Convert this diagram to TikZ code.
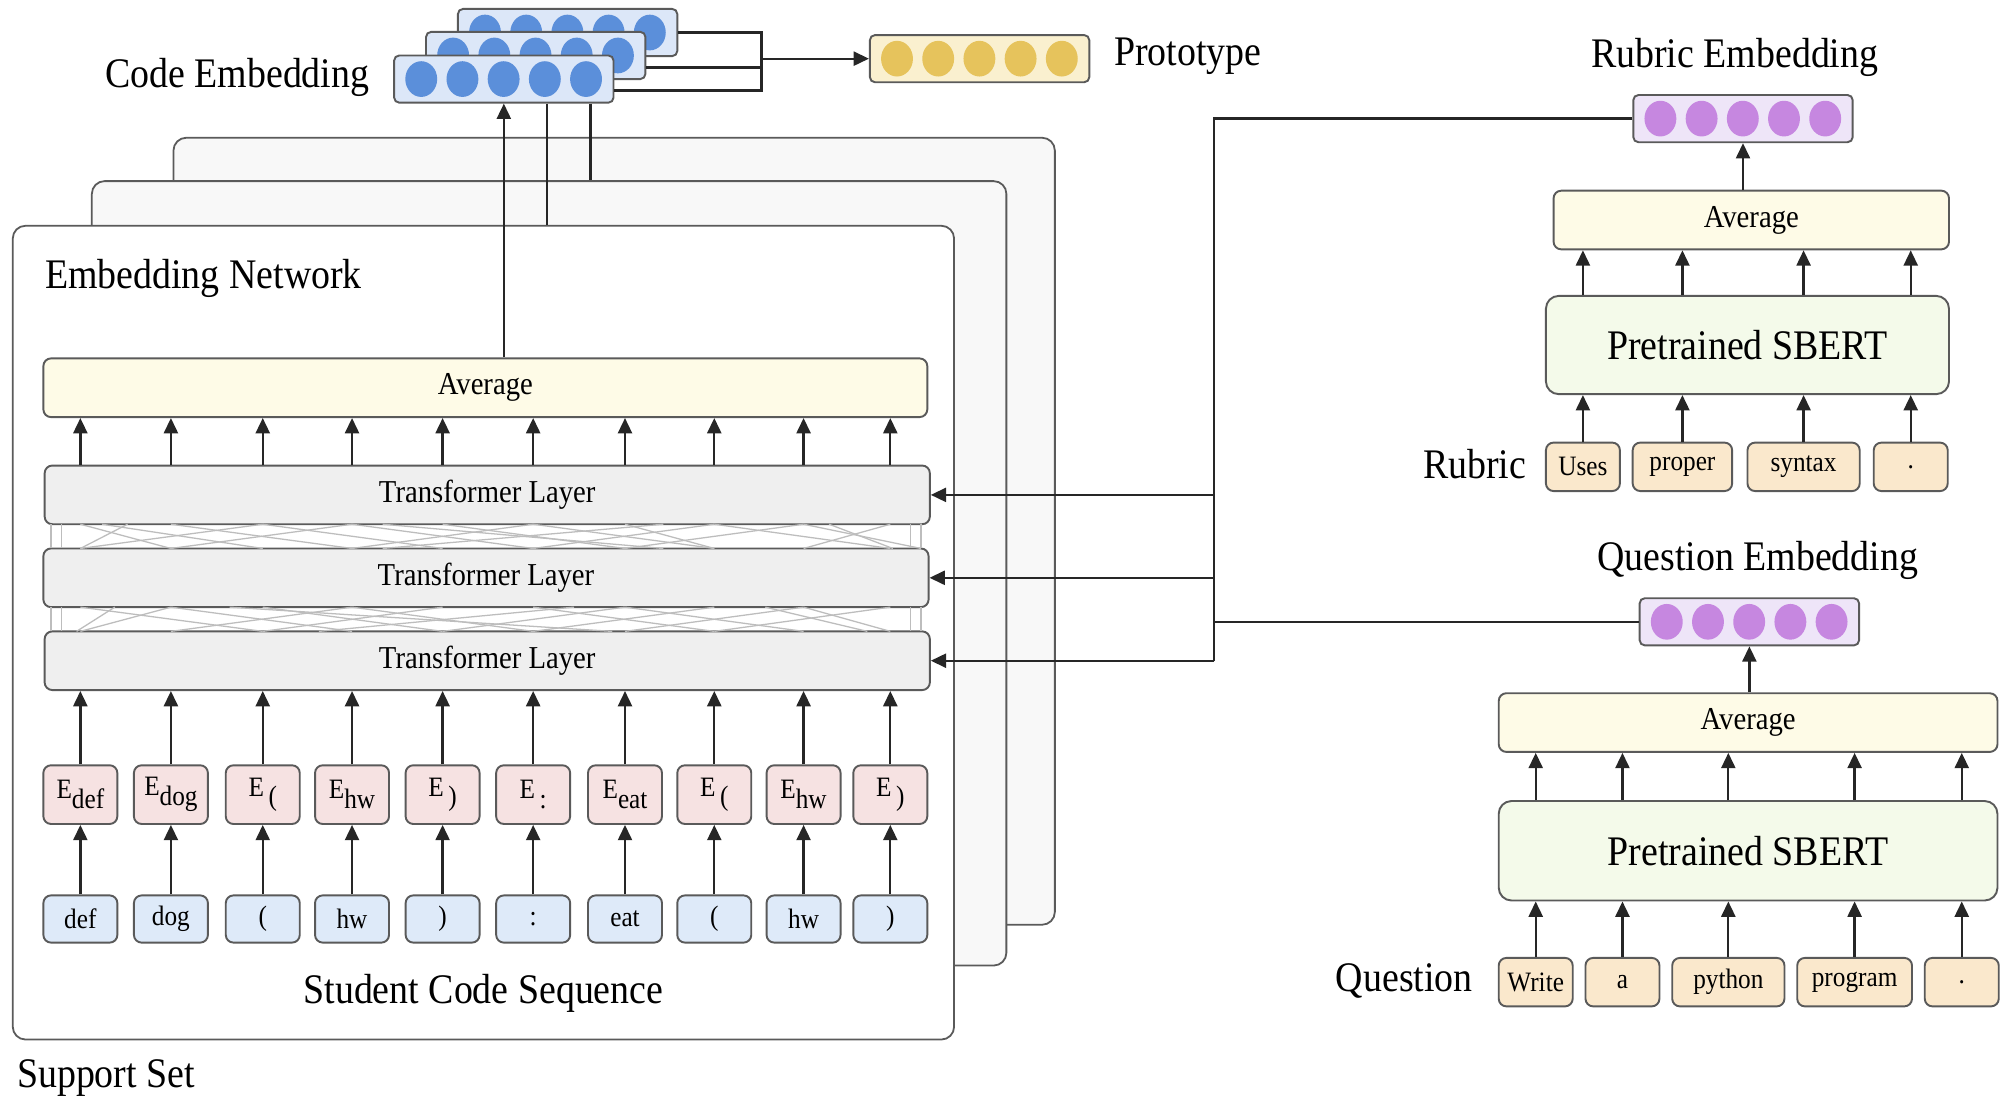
\documentclass[tikz,border=0pt]{standalone}
\usepackage{fontspec}
\setmainfont{Liberation Serif}[FakeStretch=0.9]
\usetikzlibrary{arrows.meta,shapes.geometric,calc,positioning}
\definecolor{edge}{HTML}{5A5A5A}
\definecolor{cardFill}{HTML}{F8F8F8}
\definecolor{avgFill}{HTML}{FEFBE7}
\definecolor{layerFill}{HTML}{EFEFEF}
\definecolor{embFill}{HTML}{F6E2E2}
\definecolor{tokFill}{HTML}{DEEAF9}
\definecolor{wordFill}{HTML}{FAE8CC}
\definecolor{bertFill}{HTML}{F4FAEA}
\definecolor{codeBg}{HTML}{DCE7F8}
\definecolor{codeDot}{HTML}{5B8FDA}
\definecolor{protoBg}{HTML}{FAF0CF}
\definecolor{protoDot}{HTML}{E6C35C}
\definecolor{textBg}{HTML}{EEE5F8}
\definecolor{textDot}{HTML}{C687E0}
\definecolor{attn}{HTML}{BDBDBD}
\tikzset{
  % ---- labels ----------------------------------------------------
  labbig/.style   = {inner sep=0pt, font=\fontsize{16.5}{18}\selectfont},
  labmid/.style   = {font=\fontsize{12.5}{14}\selectfont},
  labsml/.style   = {font=\fontsize{11}{12}\selectfont},
  % ---- support-set cards -----------------------------------------
  card/.style     = {draw=edge, line width=.7pt, rounded corners=5pt,
                     fill=cardFill, inner sep=0pt},
  % ---- boxes -----------------------------------------------------
  box/.style      = {draw=edge, line width=.75pt, rounded corners=3pt,
                     inner sep=0pt},
  avgbox/.style   = {box, labmid, fill=avgFill, minimum height=23pt},
  layer/.style    = {box, labmid, fill=layerFill, minimum width=347pt,
                     minimum height=23pt},
  ebox/.style     = {box, labsml, fill=embFill, minimum width=29pt,
                     minimum height=23pt},
  tokbox/.style   = {box, labsml, fill=tokFill, minimum width=29pt,
                     minimum height=18.5pt},
  wordbox/.style  = {box, labsml, fill=wordFill, minimum height=19pt},
  bertbox/.style  = {box, rounded corners=5pt, fill=bertFill,
                     font=\fontsize{16.5}{18}\selectfont},
  % ---- embedding vectors -----------------------------------------
  vecbox/.style   = {box, rounded corners=2pt, minimum width=86pt,
                     minimum height=18.5pt},
  dot/.style      = {ellipse, inner sep=0pt, minimum width=12.5pt,
                     minimum height=14pt},
  % ---- connectors ------------------------------------------------
  wire/.style     = {draw=black!85, line width=.9pt},
  arr/.style      = {wire, -{Triangle[length=6pt,width=5.5pt]}},
  attnline/.style = {draw=attn, line width=.5pt},
}

\begin{document}
\begin{tikzpicture}[x=0.5pt,y=-0.5pt]
  \useasboundingbox (0,0) rectangle (1568,860);
  % support set cards, back to front
  \node[card, minimum width=345.5pt, minimum height=308.5pt] (card3) at (481.5,416.5) {};
  \node[card, minimum width=358.5pt, minimum height=307.5pt] (card2) at (430.5,449.5) {};
  \node[card, fill=white, minimum width=369pt, minimum height=319pt] (card1) at (379,496) {};
  \node[labbig, anchor=west] (netlab) at (35,218) {Embedding Network};
  \node[labbig] (seqlab) at (379,779) {Student Code Sequence};
  \node[labbig, anchor=west] (suplab) at (13,845) {Support Set};

  % code embeddings and prototype
  \node[labbig] (celab) at (186,61) {Code Embedding};
  \foreach \j/\x/\y in {3/445/25.5, 2/420/43.5, 1/395/62} {
    \node[vecbox, fill=codeBg] (ce\j) at (\x,\y) {};
    \foreach \k in {0,...,4}
      \node[dot, fill=codeDot] at ($(ce\j.west)+(22+32.3*\k,0)$) {};
  }
  \node[vecbox, fill=protoBg] (proto) at (768,46) {};
  \foreach \k in {0,...,4}
    \node[dot, fill=protoDot] at ($(proto.west)+(22+32.3*\k,0)$) {};
  \node[labbig, anchor=west] (protolab) at (873,44) {Prototype};
  \coordinate (pj) at (597,46);
  \draw[wire] (ce3.east) -| (pj);
  \draw[wire] ([yshift=-4.75pt]ce2.east) -| (pj);
  \draw[wire] ([yshift=-4.5pt]ce1.east) -| (pj);
  \draw[arr] (pj) -- (proto);

  % embedding network
  \node[avgbox, minimum width=346.5pt] (avg) at (380.5,304) {Average};
  \node[layer] (tl1) at (382,388) {Transformer Layer};
  \node[layer] (tl2) at (381,453) {Transformer Layer};
  \node[layer] (tl3) at (382,518) {Transformer Layer};
  \foreach \a/\b in {40/40, 48/48, 63/134, 100/63, 134/276, 206/347, 276/134,
                     347/490, 418/276, 490/560, 560/698, 630/490, 698/630,
                     722/722, 714/714, 206/63, 418/560, 560/418, 630/722,
                     276/418, 80/206, 300/520, 520/300, 650/700} {
    \draw[attnline] (\a,411) -- (\b,430);
  }
  \foreach \a/\b in {40/40, 48/48, 63/206, 134/63, 206/347, 276/134, 347/206,
                     418/560, 490/347, 560/418, 630/698, 698/560, 722/722,
                     714/714, 134/276, 490/630, 630/490, 276/418, 90/60,
                     180/480, 450/250, 600/680} {
    \draw[attnline] (\a,476) -- (\b,495);
  }
  \foreach \x/\elab/\tlab [count=\i] in {63/def/def, 134/dog/dog, 206/{\,(}/{(},
      276/hw/hw, 347/{\,)}/{)}, 418/{\,:}/{:}, 490/eat/eat, 560/{\,(}/{(},
      630/hw/hw, 698/{\,)}/{)}} {
    \node[ebox] (e\i) at (\x,623) {E\raisebox{-.75ex}{\elab}};
    \node[tokbox] (t\i) at (\x,720.5) {\tlab};
    \draw[arr] (t\i) -- (e\i);
    \draw[arr] (e\i) -- (e\i |- tl3.south);
    \draw[arr] (tl1.north -| e\i) -- (avg.south -| e\i);
  }
  \draw[arr] (avg.north -| ce1) -- (ce1);
  \coordinate (lk1) at (429,0);
  \coordinate (lk2) at (463,0);
  \draw[wire] (ce1.south -| lk1) -- (card1.north -| lk1);
  \draw[wire] (ce1.south -| lk2) -- (card2.north -| lk2);

  % rubric branch
  \node[labbig] (rlab) at (1360,45) {Rubric Embedding};
  \node[vecbox, fill=textBg] (rEmb) at (1366.5,93) {};
  \foreach \k in {0,...,4}
    \node[dot, fill=textDot] at ($(rEmb.west)+(22+32.3*\k,0)$) {};
  \node[avgbox, minimum width=155pt] (rAvg) at (1373,172.5) {Average};
  \node[bertbox, minimum width=158pt, minimum height=38.5pt] (rBert) at (1370,270.5) {Pretrained SBERT};
  \node[labbig, anchor=east] (rword) at (1197,364) {Rubric};
  \foreach \x/\w/\word [count=\i] in {1241/29/Uses, 1319/39/proper,
      1414/44/syntax, 1498/29/.} {
    \node[wordbox, minimum width=\w pt] (rw\i) at (\x,366) {\word};
    \draw[arr] (rw\i) -- (rw\i |- rBert.south);
    \draw[arr] (rBert.north -| rw\i) -- (rAvg.south -| rw\i);
  }
  \draw[arr] (rAvg.north -| rEmb) -- (rEmb);

  % question branch
  \node[labbig] (qlab) at (1378,439) {Question Embedding};
  \node[vecbox, fill=textBg] (qEmb) at (1371.5,487.5) {};
  \foreach \k in {0,...,4}
    \node[dot, fill=textDot] at ($(qEmb.west)+(22+32.3*\k,0)$) {};
  \node[avgbox, minimum width=195.5pt] (qAvg) at (1370.5,566.5) {Average};
  \node[bertbox, minimum width=195.5pt, minimum height=39pt] (qBert) at (1370.5,667) {Pretrained SBERT};
  \node[labbig, anchor=east] (qword) at (1155,769) {Question};
  \foreach \x/\w/\word [count=\i] in {1204/29/Write, 1272/29/a,
      1355/44/python, 1454/45/program, 1538/29/.} {
    \node[wordbox, minimum width=\w pt] (qw\i) at (\x,770) {\word};
    \draw[arr] (qw\i) -- (qw\i |- qBert.south);
    \draw[arr] (qBert.north -| qw\i) -- (qAvg.south -| qw\i);
  }
  \draw[arr] (qAvg.north -| qEmb) -- (qEmb);

  % text embeddings into the transformer layers
  \coordinate (bus) at (952,518);
  \draw[wire] (rEmb.west) -| (bus);
  \draw[wire] (qEmb.west) -- (qEmb.west -| bus);
  \draw[arr] (bus |- tl1.east) -- (tl1.east);
  \draw[arr] (bus |- tl2.east) -- (tl2.east);
  \draw[arr] (bus |- tl3.east) -- (tl3.east);
\end{tikzpicture}
\end{document}
